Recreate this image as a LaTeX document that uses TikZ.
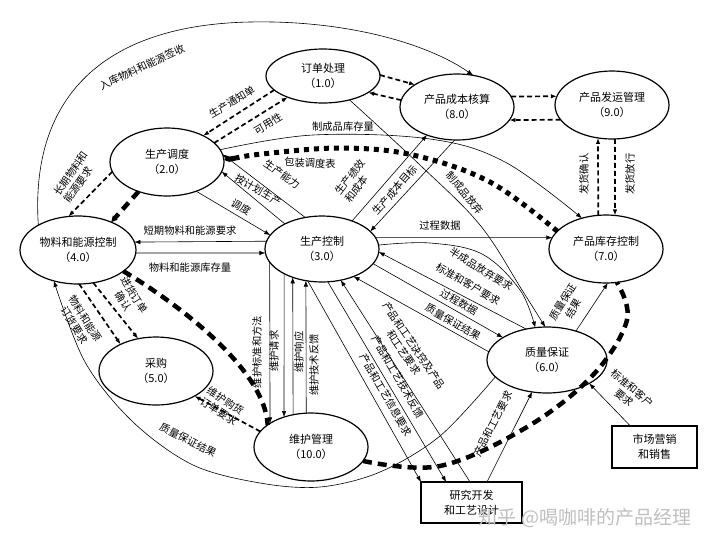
\documentclass[tikz,border=0pt]{standalone}
\usepackage{fontspec}
\setmainfont{Noto Sans CJK SC}
\usetikzlibrary{arrows.meta,shapes.geometric}
\begin{document}
\begin{tikzpicture}[x=1pt,y=-1pt,
 ell/.style={ellipse,draw,line width=1.2pt,inner sep=0pt,outer sep=0pt,align=center,font=\fontsize{11}{15}\selectfont},
 box/.style={rectangle,draw,line width=1.2pt,inner sep=0pt,outer sep=0pt,align=center,font=\fontsize{11}{15}\selectfont},
 lbl/.style={font=\fontsize{10.3}{12.5}\selectfont,inner sep=0pt},
 thinl/.style={line width=0.6pt},
 arr/.style={-{Latex[length=6pt,width=4.5pt]}},
 dsh/.style={line width=1.7pt,dash pattern=on 5pt off 3pt},
 heavy/.style={line width=4.5pt,dash pattern=on 9pt off 6pt},
 dotsq/.style={line width=5pt,dash pattern=on 5pt off 5pt},
 harr/.style={-{Triangle[length=6pt,width=6pt]}}
]
\useasboundingbox (0,0) rectangle (720,547);
\fill[white] (0,0) rectangle (720,547);
% nodes
\node[ell,minimum width=114pt,minimum height=54pt] (n1) at (323,76) {订单处理\\（1.0）};
\node[ell,minimum width=114pt,minimum height=66pt] (n8) at (457,107) {产品成本核算\\（8.0）};
\node[ell,minimum width=114pt,minimum height=68pt] (n9) at (612,105) {产品发运管理\\（9.0）};
\node[ell,minimum width=114pt,minimum height=68pt] (n2) at (167,162) {生产调度\\（2.0）};
\node[ell,minimum width=116pt,minimum height=68pt] (n4) at (78,250) {物料和能源控制\\（4.0）};
\node[ell,minimum width=114pt,minimum height=66pt] (n3) at (322,249) {生产控制\\（3.0）};
\node[ell,minimum width=114pt,minimum height=68pt] (n7) at (606,249) {产品库存控制\\（7.0）};
\node[ell,minimum width=114pt,minimum height=68pt] (n5) at (156,371) {采购\\（5.0）};
\node[ell,minimum width=120pt,minimum height=66pt] (n6) at (547,360) {质量保证\\（6.0）};
\node[ell,minimum width=114pt,minimum height=68pt] (n10) at (311,447) {维护管理\\（10.0）};
\node[box,minimum width=101pt,minimum height=41pt] (rd) at (471.5,502.5) {研究开发\\和工艺设计};
\node[box,minimum width=85pt,minimum height=42pt] (mk) at (654.5,447) {市场营销\\和销售};

% outer arc
\draw[thinl,arr] (n4.148) .. controls (30,100) and (100,25) .. (250,22) .. controls (350,20) and (430,45) .. (n8.63);
\node[lbl,rotate=25] at (142,67) {入库物料和能源签收};

% 1.0 - 2.0
\draw[dsh,arr] (n1.196) -- (n2.36);
\draw[dsh,arr] (n2.22) -- (n1.211);
\node[lbl,rotate=31] at (232,102) {生产通知单};
\node[lbl,rotate=31] at (268,124) {可用性};
% 1.0 - 8.0
\draw[dsh,arr] (n1.1) -- (n8.152);
\draw[dsh,arr] (n8.173) -- (n1.-20);
% 8.0 - 9.0
\draw[dsh,arr] (n8.11) -- (n9.171);
\draw[dsh,arr] (n9.196) -- (n8.-14);
% 9.0 - 7.0
\draw[dsh,arr] (n7.103.4) -- (n9.247);
\draw[dsh,arr] (n9.275) -- (n7.75);
\node[lbl,rotate=90] at (584,174) {发货确认};
\node[lbl,rotate=90] at (630,174) {发货放行};

% 2.0 -> 7.0 制成品库存量
\draw[thinl,arr] plot[smooth,tension=0.6] coordinates {(n2.13) (313,135) (430,139) (505,162) (n7.128)};
\node[lbl] at (343,127) {制成品库存量};
% dotted 7.0 -> 2.0
\draw[dotsq] plot[smooth,tension=0.6] coordinates {(n7.160) (490,182) (413,155) (340,148) (262,154) (236,158)};
\draw[line width=5pt,harr] (236,158) -- (n2.2);
\node[lbl,rotate=-3] at (310,163) {包装调度表};
% 1.0 -> 6.0 制成品放弃
\draw[thinl,arr] plot[smooth,tension=0.6] coordinates {(n1.-42) (420,165) (480,225) (522,290) (n6.93.5)};
\node[lbl,rotate=-50] at (465,193) {制成品放弃};

% 2.0 - 3.0
\draw[thinl,arr] (n3.118) -- (n2.8);
\node[lbl,rotate=-35] at (282,174) {生产能力};
\draw[thinl,arr] (n3.146) -- (n2.-10);
\node[lbl,rotate=-30] at (258,190) {按计划生产};
\draw[thinl,arr] (n2.-45) -- (n3.165);
\node[lbl,rotate=-30] at (241,207) {调度};

% 3.0 - 8.0
\draw[thinl,arr] (n3.43) -- (n8.223);
\draw[thinl,arr] (n8.266.5) -- (n3.20.8);
\node[lbl,rotate=52,align=left] at (355,181) {生产绩效\\和成本};
\node[lbl,rotate=49] at (395,190) {生产成本目标};

% 3.0 - 7.0
\draw[thinl,arr] (n3.12) -- (n7.168);
\node[lbl] at (440,226) {过程数据};

% 3.0 - 6.0
\draw[thinl,arr] plot[smooth,tension=0.6] coordinates {(n3.4) (430,243) (482,254) (520,290) (n6.110.6)};
\node[lbl,rotate=-32] at (481,269) {半成品放弃要求};
\draw[thinl,arr] (n6.124.5) -- (n3.-3);
\node[lbl,rotate=-30] at (468,284) {标准和客户要求};
\draw[thinl,arr] (n3.-16) -- (n6.153);
\node[lbl,rotate=-30] at (459,302) {过程数据};
\draw[thinl,arr] (n6.172) -- (n3.-41.5);
\node[lbl,rotate=-30] at (453,322) {质量保证结果};

% 3.0 - R&D
\draw[thinl,arr] (n3.246) -- (rd.north west);
\draw[thinl,arr] (n3.-80) -- (rd.141);
\draw[thinl,arr] (rd.94) -- (n3.-59);
\node[lbl,rotate=-60] at (386,395) {产品和工艺信息要求};
\node[lbl,rotate=-60] at (398,377) {产品和工艺技术反馈};
\node[lbl,rotate=-56,align=center] at (409,349) {产品和工艺诀窍及产品\\和工艺要求};

% R&D -> 6.0
\draw[thinl,arr] (rd.53) -- (n6.245.6);
\node[lbl,rotate=63] at (493,424) {产品和工艺要求};
% market -> 6.0
\draw[thinl,arr] (mk.139) -- (n6.-29);
\node[lbl,rotate=-40,align=center] at (628,393) {标准和客户\\要求};
% 6.0 -> 7.0
\draw[thinl,arr] (n6.45) -- (n7.-87);
\node[lbl,rotate=58,align=center] at (568,305) {质量保证\\结果};

% 3.0 - 4.0
\draw[thinl,arr] (n3.172.8) -- (n4.8.1);
\node[lbl] at (190,231) {短期物料和能源要求};
\draw[thinl,arr] (n4.-3) -- (n3.184);
\node[lbl] at (190,268) {物料和能源库存量};

% 2.0 -> 4.0
\draw[dsh,arr] (n2.190) -- (n4.106);
\node[lbl,rotate=55,align=left] at (76,177) {长期物料和\\能源要求};
\draw[heavy,harr] (n2.226) -- (n4.40);

% 4.0 -> 5.0
\draw[dsh,arr] (n4.-88) -- (n5.143);
\draw[dsh,arr] (n4.-65.6) -- (n5.119);
\node[lbl,rotate=-58,align=center] at (80,322) {物料和能源\\订货要求};
\node[lbl,rotate=-58,align=center] at (129,298) {进货订单\\确认};

% 4.0 -> 10.0 heavy
\draw[heavy] (n4.-25) .. controls (180,305) and (265,370) .. (n10.153);
% 10.0 -> 7.0 heavy
\draw[heavy] plot[smooth,tension=0.6] coordinates {(n10.-15) (440,466) (527,427) (593,375) (627,320) (n7.-72)};

% 10.0 -> 5.0
\draw[dsh,arr] (n10.163) -- (n5.-33);
\node[lbl,rotate=-33,align=center] at (222,406) {维护购货\\订单要求};

% 3.0 - 10.0
\draw[thinl,arr] (n3.194.6) -- (n10.150);
\draw[thinl,arr] (n3.213) -- (n10.132);
\draw[thinl,arr] (n10.119) -- (n3.224.4);
\draw[thinl,arr] (n10.98.4) -- (n3.243.2);
\node[lbl,rotate=90] at (257,352) {维护标准和方法};
\node[lbl,rotate=90] at (274,351) {维护请求};
\node[lbl,rotate=90] at (299,352) {维护响应};
\node[lbl,rotate=90] at (314,365) {维护技术反馈};

% big arc quality results
\draw[thinl,arr] plot[smooth,tension=0.55] coordinates {(n6.198) (440,436) (380,472) (320,487) (260,483) (193,465) (133,422) (85,362) (n4.232)};
\node[lbl,rotate=-27] at (188,440) {质量保证结果};

% watermark
\node[font=\fontsize{19}{20}\selectfont,text=black!25] at (585,518) {知乎 @喝咖啡的产品经理};
\end{tikzpicture}
\end{document}
